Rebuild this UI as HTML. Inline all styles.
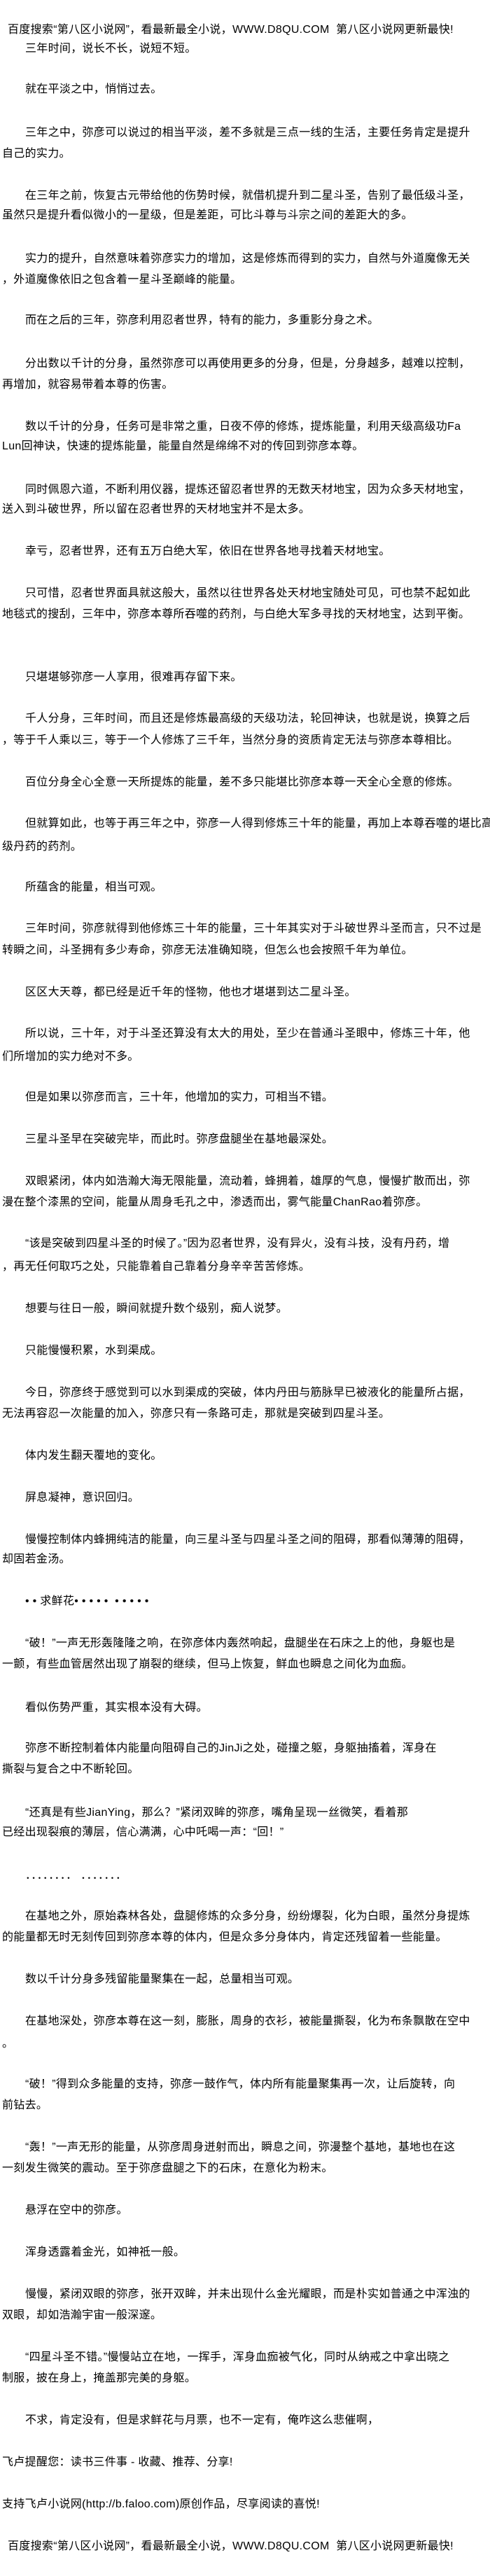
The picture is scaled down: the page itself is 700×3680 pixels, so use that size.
<!DOCTYPE html>
<html><head><meta charset="utf-8"><style>
html,body{margin:0;padding:0;background:#fff;}
body{width:700px;height:3680px;position:relative;overflow:hidden;}
p{position:absolute;margin:0;left:3px;white-space:nowrap;font-family:"Liberation Sans","Noto Sans CJK SC",sans-serif;font-size:16px;letter-spacing:0.3px;line-height:22px;color:#000;}
p.i{left:36px;}
p.h{left:11px;}
</style></head><body>
<p class="h" style="top:32px">百度搜索“第八区小说网”，看最新最全小说，WWW.D8QU.COM&nbsp;&nbsp;第八区小说网更新最快!</p>
<p class="i" style="top:59px">三年时间，说长不长，说短不短。</p>
<p class="i" style="top:117px">就在平淡之中，悄悄过去。</p>
<p class="i" style="top:179px">三年之中，弥彦可以说过的相当平淡，差不多就是三点一线的生活，主要任务肯定是提升</p>
<p style="top:209px">自己的实力。</p>
<p class="i" style="top:269px">在三年之前，恢复古元带给他的伤势时候，就借机提升到二星斗圣，告别了最低级斗圣，</p>
<p style="top:297px">虽然只是提升看似微小的一星级，但是差距，可比斗尊与斗宗之间的差距大的多。</p>
<p class="i" style="top:359px">实力的提升，自然意味着弥彦实力的增加，这是修炼而得到的实力，自然与外道魔像无关</p>
<p style="top:389px">，外道魔像依旧之包含着一星斗圣巅峰的能量。</p>
<p class="i" style="top:447px">而在之后的三年，弥彦利用忍者世界，特有的能力，多重影分身之术。</p>
<p class="i" style="top:509px">分出数以千计的分身，虽然弥彦可以再使用更多的分身，但是，分身越多，越难以控制，</p>
<p style="top:539px">再增加，就容易带着本尊的伤害。</p>
<p class="i" style="top:599px">数以千计的分身，任务可是非常之重，日夜不停的修炼，提炼能量，利用天级高级功Fa</p>
<p style="top:627px">Lun回神诀，快速的提炼能量，能量自然是绵绵不对的传回到弥彦本尊。</p>
<p class="i" style="top:689px">同时佩恩六道，不断利用仪器，提炼还留忍者世界的无数天材地宝，因为众多天材地宝，</p>
<p style="top:717px">送入到斗破世界，所以留在忍者世界的天材地宝并不是太多。</p>
<p class="i" style="top:777px">幸亏，忍者世界，还有五万白绝大军，依旧在世界各地寻找着天材地宝。</p>
<p class="i" style="top:837px">只可惜，忍者世界面具就这般大，虽然以往世界各处天材地宝随处可见，可也禁不起如此</p>
<p style="top:867px">地毯式的搜刮，三年中，弥彦本尊所吞噬的药剂，与白绝大军多寻找的天材地宝，达到平衡。</p>
<p class="i" style="top:957px">只堪堪够弥彦一人享用，很难再存留下来。</p>
<p class="i" style="top:1016px">千人分身，三年时间，而且还是修炼最高级的天级功法，轮回神诀，也就是说，换算之后</p>
<p style="top:1047px">，等于千人乘以三，等于一个人修炼了三千年，当然分身的资质肯定无法与弥彦本尊相比。</p>
<p class="i" style="top:1107px">百位分身全心全意一天所提炼的能量，差不多只能堪比弥彦本尊一天全心全意的修炼。</p>
<p class="i" style="top:1166px">但就算如此，也等于再三年之中，弥彦一人得到修炼三十年的能量，再加上本尊吞噬的堪比高</p>
<p style="top:1199px">级丹药的药剂。</p>
<p class="i" style="top:1257px">所蕴含的能量，相当可观。</p>
<p class="i" style="top:1316px">三年时间，弥彦就得到他修炼三十年的能量，三十年其实对于斗破世界斗圣而言，只不过是</p>
<p style="top:1347px">转瞬之间，斗圣拥有多少寿命，弥彦无法准确知晓，但怎么也会按照千年为单位。</p>
<p class="i" style="top:1407px">区区大天尊，都已经是近千年的怪物，他也才堪堪到达二星斗圣。</p>
<p class="i" style="top:1466px">所以说，三十年，对于斗圣还算没有太大的用处，至少在普通斗圣眼中，修炼三十年，他</p>
<p style="top:1499px">们所增加的实力绝对不多。</p>
<p class="i" style="top:1557px">但是如果以弥彦而言，三十年，他增加的实力，可相当不错。</p>
<p class="i" style="top:1617px">三星斗圣早在突破完毕，而此时。弥彦盘腿坐在基地最深处。</p>
<p class="i" style="top:1677px">双眼紧闭，体内如浩瀚大海无限能量，流动着，蜂拥着，雄厚的气息，慢慢扩散而出，弥</p>
<p style="top:1707px">漫在整个漆黑的空间，能量从周身毛孔之中，渗透而出，雾气能量ChanRao着弥彦。</p>
<p class="i" style="top:1766px">“该是突破到四星斗圣的时候了。”因为忍者世界，没有异火，没有斗技，没有丹药，增</p>
<p style="top:1799px">，再无任何取巧之处，只能靠着自己靠着分身辛辛苦苦修炼。</p>
<p class="i" style="top:1859px">想要与往日一般，瞬间就提升数个级别，痴人说梦。</p>
<p class="i" style="top:1919px">只能慢慢积累，水到渠成。</p>
<p class="i" style="top:1979px">今日，弥彦终于感觉到可以水到渠成的突破，体内丹田与筋脉早已被液化的能量所占据，</p>
<p style="top:2009px">无法再容忍一次能量的加入，弥彦只有一条路可走，那就是突破到四星斗圣。</p>
<p class="i" style="top:2069px">体内发生翻天覆地的变化。</p>
<p class="i" style="top:2129px">屏息凝神，意识回归。</p>
<p class="i" style="top:2189px">慢慢控制体内蜂拥纯洁的能量，向三星斗圣与四星斗圣之间的阻碍，那看似薄薄的阻碍，</p>
<p style="top:2217px">却固若金汤。</p>
<p class="i" style="top:2277px">•&nbsp;• 求鲜花•&nbsp;•&nbsp;•&nbsp;•&nbsp;•&nbsp;&nbsp;•&nbsp;•&nbsp;•&nbsp;•&nbsp;•</p>
<p class="i" style="top:2337px">“破！”一声无形轰隆隆之响，在弥彦体内轰然响起，盘腿坐在石床之上的他，身躯也是</p>
<p style="top:2367px">一颤，有些血管居然出现了崩裂的继续，但马上恢复，鲜血也瞬息之间化为血痂。</p>
<p class="i" style="top:2429px">看似伤势严重，其实根本没有大碍。</p>
<p class="i" style="top:2487px">弥彦不断控制着体内能量向阻碍自己的JinJi之处，碰撞之躯，身躯抽搐着，浑身在</p>
<p style="top:2517px">撕裂与复合之中不断轮回。</p>
<p class="i" style="top:2579px">“还真是有些JianYing，那么？”紧闭双眸的弥彦，嘴角呈现一丝微笑，看着那</p>
<p style="top:2607px">已经出现裂痕的薄层，信心满满，心中吒喝一声：“回！”</p>
<p class="i" style="top:2669px">．．．．．．．．&nbsp;．．．．．．．</p>
<p class="i" style="top:2727px">在基地之外，原始森林各处，盘腿修炼的众多分身，纷纷爆裂，化为白眼，虽然分身提炼</p>
<p style="top:2757px">的能量都无时无刻传回到弥彦本尊的体内，但是众多分身体内，肯定还残留着一些能量。</p>
<p class="i" style="top:2817px">数以千计分身多残留能量聚集在一起，总量相当可观。</p>
<p class="i" style="top:2877px">在基地深处，弥彦本尊在这一刻，膨胀，周身的衣衫，被能量撕裂，化为布条飘散在空中</p>
<p style="top:2909px">。</p>
<p class="i" style="top:2967px">“破！”得到众多能量的支持，弥彦一鼓作气，体内所有能量聚集再一次，让后旋转，向</p>
<p style="top:2997px">前钻去。</p>
<p class="i" style="top:3057px">“轰！”一声无形的能量，从弥彦周身迸射而出，瞬息之间，弥漫整个基地，基地也在这</p>
<p style="top:3087px">一刻发生微笑的震动。至于弥彦盘腿之下的石床，在意化为粉末。</p>
<p class="i" style="top:3147px">悬浮在空中的弥彦。</p>
<p class="i" style="top:3207px">浑身透露着金光，如神祗一般。</p>
<p class="i" style="top:3267px">慢慢，紧闭双眼的弥彦，张开双眸，并未出现什么金光耀眼，而是朴实如普通之中浑浊的</p>
<p style="top:3297px">双眼，却如浩瀚宇宙一般深邃。</p>
<p class="i" style="top:3357px">“四星斗圣不错。”慢慢站立在地，一挥手，浑身血痂被气化，同时从纳戒之中拿出晓之</p>
<p style="top:3387px">制服，披在身上，掩盖那完美的身躯。</p>
<p class="i" style="top:3447px">不求，肯定没有，但是求鲜花与月票，也不一定有，俺咋这么悲催啊，</p>
<p style="top:3507px">飞卢提醒您：读书三件事 - 收藏、推荐、分享!</p>
<p style="top:3567px">支持飞卢小说网(http://b.faloo.com)原创作品，尽享阅读的喜悦!</p>
<p class="h" style="top:3627px">百度搜索“第八区小说网”，看最新最全小说，WWW.D8QU.COM&nbsp;&nbsp;第八区小说网更新最快!</p>
</body></html>
